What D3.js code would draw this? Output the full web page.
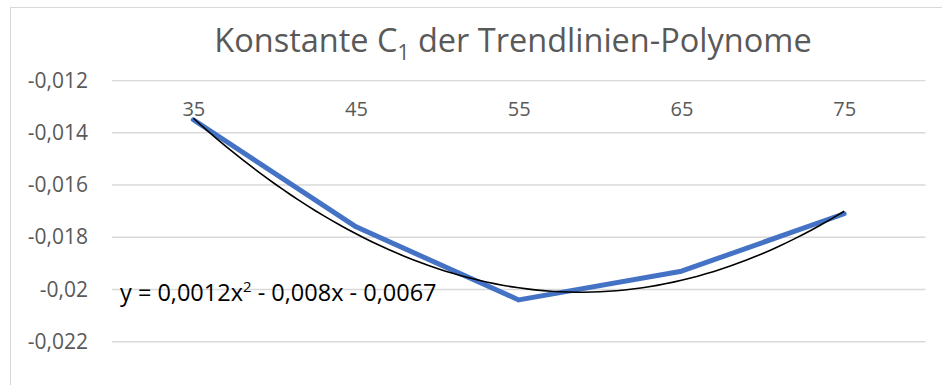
<!DOCTYPE html>
<html>
<head>
<meta charset="utf-8">
<script src="https://cdn.jsdelivr.net/npm/d3@7"></script>
<style>
  html, body { margin: 0; padding: 0; background: #fff; }
  svg { display: block; }
  text { font-family: "Open Sans", "Liberation Sans", sans-serif; }
</style>
</head>
<body>
<svg id="chart" width="942" height="385"></svg>
<script>
// Category labels (x axis) and the measured constant C1 per category
const categories = ["35", "45", "55", "65", "75"];
const c1Values = [-0.0135, -0.0176, -0.0204, -0.0193, -0.0171];

// Value axis ticks and their labels (German decimal comma)
const yTicks = [-0.012, -0.014, -0.016, -0.018, -0.02, -0.022];
const yTickLabels = ["-0,012", "-0,014", "-0,016", "-0,018", "-0,02", "-0,022"];
const yDomain = [-0.024, -0.012];

const titleMain = "Konstante C";
const titleSub = "1";
const titleRest = " der Trendlinien-Polynome";

const svg = d3.select("#chart");

// chart frame (extends past the visible area on the right and bottom)
svg.append("rect")
  .attr("x", 10.5).attr("y", 7.5)
  .attr("width", 960).attr("height", 400)
  .attr("fill", "#fff").attr("stroke", "#d9d9d9").attr("stroke-width", 1);

const plot = { left: 112, right: 925.5, top: 80.6, bottom: 393.9 };

const x = d3.scalePoint().domain(categories).range([plot.left, plot.right]).padding(0.5);
const y = d3.scaleLinear().domain(yDomain).range([plot.bottom, plot.top]);

// horizontal gridlines
svg.append("g")
  .selectAll("line")
  .data(yTicks)
  .join("line")
  .attr("x1", plot.left).attr("x2", plot.right)
  .attr("y1", d => y(d)).attr("y2", d => y(d))
  .attr("stroke", "#d9d9d9").attr("stroke-width", 1.4);

// value axis labels
const yAxis = d3.axisLeft(y)
  .tickValues(yTicks)
  .tickSize(0)
  .tickPadding(24)
  .tickFormat((d, i) => yTickLabels[i]);
const gy = svg.append("g").attr("transform", `translate(${plot.left},0)`).call(yAxis);
gy.select(".domain").remove();
gy.selectAll("text")
  .attr("fill", "#595959")
  .attr("font-size", 21)
  .attr("font-family", "Open Sans, sans-serif");

// category axis: sits on the top edge, labels drawn beneath it
const xAxis = d3.axisBottom(x).tickSize(0).tickPadding(21);
const gx = svg.append("g").attr("transform", `translate(0,${y(yDomain[1])})`).call(xAxis);
gx.select(".domain").remove();
gx.selectAll("text")
  .attr("fill", "#595959")
  .attr("font-size", 20)
  .attr("font-family", "Open Sans, sans-serif");

// series line
const line = d3.line()
  .x((d, i) => x(categories[i]))
  .y(d => y(d));

svg.append("path")
  .datum(c1Values)
  .attr("d", line)
  .attr("fill", "none")
  .attr("stroke", "#4472c4")
  .attr("stroke-width", 5)
  .attr("stroke-linejoin", "round")
  .attr("stroke-linecap", "round");

// quadratic least-squares trendline over category index 1..n
function polyFit2(ys) {
  const xs = ys.map((_, i) => i + 1);
  const s = Array(5).fill(0), t = Array(3).fill(0);
  xs.forEach((xv, i) => {
    for (let k = 0; k < 5; k++) s[k] += Math.pow(xv, k);
    for (let k = 0; k < 3; k++) t[k] += Math.pow(xv, k) * ys[i];
  });
  const A = [[s[0], s[1], s[2]], [s[1], s[2], s[3]], [s[2], s[3], s[4]]];
  const det = m => m[0][0]*(m[1][1]*m[2][2]-m[1][2]*m[2][1]) - m[0][1]*(m[1][0]*m[2][2]-m[1][2]*m[2][0]) + m[0][2]*(m[1][0]*m[2][1]-m[1][1]*m[2][0]);
  const D = det(A);
  return [0, 1, 2].map(c => det(A.map((row, r) => row.map((v, j) => j === c ? t[r] : v))) / D);
}
const [a0, a1, a2] = polyFit2(c1Values);
const xi = d3.scaleLinear().domain([1, categories.length]).range([x(categories[0]), x(categories[categories.length - 1])]);
const trendPts = d3.range(1, categories.length + 0.001, 0.05).map(u => [xi(u), y(a0 + a1 * u + a2 * u * u)]);
svg.append("path")
  .attr("d", d3.line()(trendPts))
  .attr("fill", "none")
  .attr("stroke", "#000")
  .attr("stroke-width", 1.6);

// trendline equation label
const eq = svg.append("text")
  .attr("x", 120).attr("y", 301)
  .attr("font-size", 23.5)
  .attr("fill", "#000");
eq.append("tspan").text("y = 0,0012x");
eq.append("tspan").attr("dy", -9).attr("font-size", 15).text("2");
eq.append("tspan").attr("dy", 9).text(" - 0,008x - 0,0067");

// title
const title = svg.append("text")
  .attr("x", 513)
  .attr("y", 52)
  .attr("text-anchor", "middle")
  .attr("font-size", 32.5)
  .attr("fill", "#595959");
title.append("tspan").text(titleMain);
title.append("tspan").attr("dy", 8).attr("font-size", 21).text(titleSub);
title.append("tspan").attr("dy", -8).text(titleRest);
</script>
</body>
</html>
